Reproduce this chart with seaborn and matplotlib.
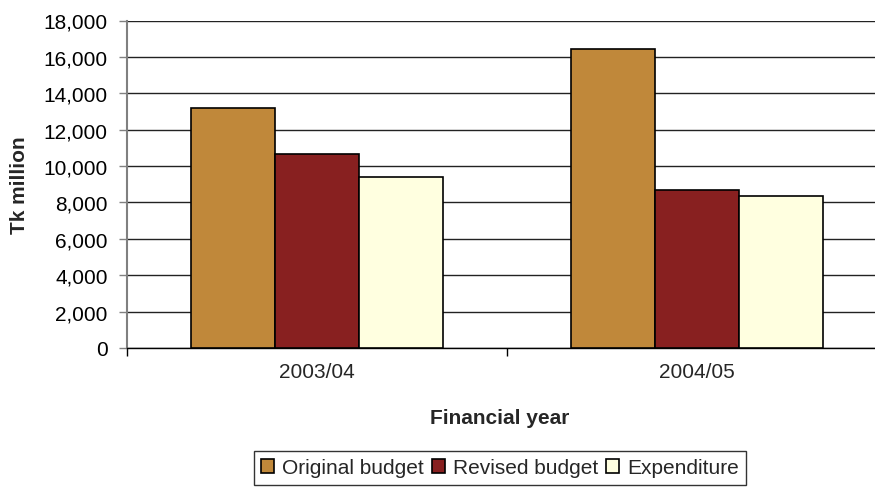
import matplotlib
matplotlib.use("Agg")
import matplotlib.pyplot as plt
from matplotlib.ticker import FuncFormatter, FixedLocator
import seaborn as sns
import pandas as pd

# Budget figures (Tk million)
years = ["2003/04", "2004/05"]
series = ["Original budget", "Revised budget", "Expenditure"]
original_budget = [13200, 16450]
revised_budget = [10650, 8700]
expenditure = [9400, 8370]
y_ticks = [0, 2000, 4000, 6000, 8000, 10000, 12000, 14000, 16000, 18000]

colors = ["#C0883A", "#882020", "#FFFFE0"]

df = pd.DataFrame({
    "year": years * 3,
    "series": [s for s in series for _ in years],
    "value": original_budget + revised_budget + expenditure,
})

sns.set_theme(style="white")
plt.rcParams["font.family"] = ["Liberation Sans", "DejaVu Sans"]

fig = plt.figure(figsize=(8.75, 4.89), dpi=100)
ax = fig.add_axes([127 / 875, 1 - 349 / 489, 760 / 875, (349 - 21.5) / 489])

sns.barplot(data=df, x="year", y="value", hue="series", hue_order=series,
            order=years, palette=colors, width=0.665, edgecolor="black",
            linewidth=1.2, saturation=1, ax=ax, zorder=3)

ax.set_ylim(0, 18000)
ax.set_xlim(-0.5, 1.5)
ax.set_yticks(y_ticks)
ax.yaxis.set_major_formatter(FuncFormatter(lambda v, p: f"{int(v):,}"))
ax.yaxis.grid(True, color="#222222", linewidth=1.0, zorder=0)
ax.xaxis.grid(False)

# x ticks: marks on category boundaries, labels at category centres
ax.xaxis.set_major_locator(FixedLocator([-0.5, 0.5, 1.5]))
ax.xaxis.set_minor_locator(FixedLocator([0, 1]))
ax.set_xticklabels(["", "", ""])
ax.set_xticklabels(years, minor=True)
ax.tick_params(axis="x", which="major", direction="out", length=6,
               width=1, color="black", bottom=True)
ax.tick_params(axis="x", which="minor", length=0, pad=10, labelsize=15)
ax.tick_params(axis="y", direction="out", length=6, width=1, color="#808080",
               left=True, pad=8, labelsize=15, labelcolor="black")

for side in ["top", "right"]:
    ax.spines[side].set_visible(False)
ax.spines["left"].set_color("#808080")
ax.spines["left"].set_linewidth(1.5)
ax.spines["bottom"].set_color("black")
ax.spines["bottom"].set_linewidth(1.0)

ax.set_ylabel("Tk million", fontsize=15, fontweight="bold")
ax.yaxis.label.set_va("center")
ax.yaxis.set_label_coords(-0.141, 0.5)
ax.set_xlabel("Financial year", fontsize=15, fontweight="bold")
ax.xaxis.label.set_va("center")
ax.xaxis.set_label_coords(0.491, -0.211)

handles, labels = ax.get_legend_handles_labels()
ax.get_legend().remove()
leg = fig.legend(handles, labels, loc="upper center",
                 bbox_to_anchor=(0.5715, 1 - 452 / 489), ncol=3,
                 frameon=True, fancybox=False, edgecolor="black",
                 fontsize=15, handlelength=0.6, handleheight=0.6,
                 handletextpad=0.4, columnspacing=0.4, borderpad=0.35,
                 borderaxespad=0)
leg.get_frame().set_linewidth(1.0)

fig.savefig("out.png", dpi=100)
